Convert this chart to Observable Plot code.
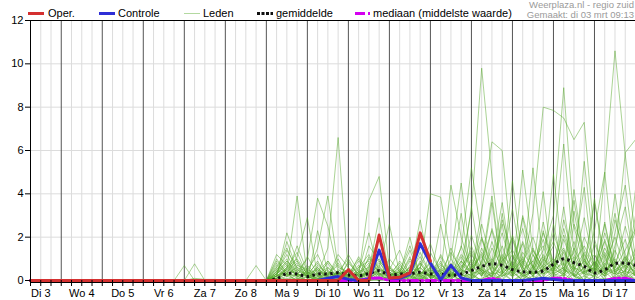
<!DOCTYPE html>
<html><head><meta charset="utf-8">
<script src="https://cdn.jsdelivr.net/npm/d3@7"></script>
<script src="https://cdn.jsdelivr.net/npm/@observablehq/plot@0.6"></script>
<style>
body{margin:0;background:#fff;font-family:"Liberation Sans",Arial,sans-serif;}
#wrap{position:relative;width:635px;height:300px;overflow:hidden;}
.lg{position:absolute;font-size:11px;line-height:14px;top:6px;color:#000;white-space:nowrap;}
.sw{position:absolute;}
.rt{position:absolute;right:1px;font-size:9.5px;line-height:10px;color:#9a9a9a;white-space:nowrap;}
</style></head>
<body>
<div id="wrap">
  <div class="sw" style="left:28px;top:12px;width:16px;height:3px;background:#d43030"></div>
  <div class="lg" style="left:48px">Oper.</div>
  <div class="sw" style="left:99px;top:12px;width:16px;height:3px;background:#2e2ed6"></div>
  <div class="lg" style="left:118px">Controle</div>
  <div class="sw" style="left:184px;top:13px;width:16px;height:1px;background:#b3d9a0"></div>
  <div class="lg" style="left:203px">Leden</div>
  <svg class="sw" style="left:257px;top:11px" width="16" height="5"><line x1="0" y1="2.5" x2="16" y2="2.5" stroke="#111" stroke-width="3" stroke-dasharray="3,1.5"/></svg>
  <div class="lg" style="left:276px">gemiddelde</div>
  <svg class="sw" style="left:355px;top:11px" width="16" height="5"><line x1="0" y1="2.5" x2="16" y2="2.5" stroke="#d400f0" stroke-width="3" stroke-dasharray="10,3,2,3"/></svg>
  <div class="lg" style="left:373px">mediaan (middelste waarde)</div>
  <div class="rt" style="top:0px">Weerplaza.nl - regio zuid</div>
  <div class="rt" style="top:10px">Gemaakt: di 03 mrt 09:13</div>
  <div id="chart" style="position:absolute;left:0;top:0"></div>
</div>
<script>
// Time index i: 6-hour steps starting Di 3 06:00 (i = 0) up to Wo 18 00:00 (i = 59)
const dagLabels = ["Di 3","Wo 4","Do 5","Vr 6","Za 7","Zo 8","Ma 9","Di 10","Wo 11","Do 12","Vr 13","Za 14","Zo 15","Ma 16","Di 17"];
const middagIndex = [1,5,9,13,17,21,25,29,33,37,41,45,49,53,57];
const middernachtIndex = [3,7,11,15,19,23,27,31,35,39,43,47,51,55];
const yTicks = [0,2,4,6,8,10,12];

// Oper. (i = 0..39)
const operWaarden = [0,0,0,0,0,0,0,0,0,0, 0,0,0,0,0,0,0,0,0,0, 0,0,0,0,0,0,0,0,0,0, 0,0.5,0,0,2.1,0.12,0.15,0.35,2.2,0.9];
// Controle (i = 0..59)
const controleWaarden = [0,0,0,0,0,0,0,0,0,0, 0,0,0,0,0,0,0,0,0,0, 0,0,0,0,0,0,0,0,0,0.1,
  0.18,0.05,0,0.05,1.4,0.12,0.1,0.3,1.7,0.8, 0.03,0.7,0.12,0,0,0,0,0,0,0.05, 0.1,0.05,0,0,0,0,0,0,0,0];
// gemiddelde (i = 0..59)
const gemiddeldeWaarden = [0,0,0,0,0,0,0,0,0,0, 0,0,0,0,0,0,0,0,0,0, 0,0,0,0,0.08,0.32,0.3,0.18,0.3,0.3,
  0.36,0.25,0.22,0.32,0.45,0.25,0.3,0.3,0.38,0.3, 0.3,0.24,0.3,0.46,0.65,0.77,0.7,0.5,0.4,0.38, 0.45,0.75,1.0,0.82,0.65,0.35,0.5,0.78,0.8,0.7];
// mediaan (i = 0..59)
const mediaanWaarden = [0,0,0,0,0,0,0,0,0,0, 0,0,0,0,0,0,0,0,0,0, 0,0,0,0,0,0,0,0,0,0,
  0,0,0,0.1,0.12,0,0,0,0,0, 0,0,0,0,0,0.1,0,0,0,0, 0,0.1,0.1,0,0,0,0,0.1,0.1,0];

// Leden (ensemble members), values for i = 12..59
const ledenStartIndex = 12;
const lid01 = [0,0,0, 0,0,0,0, 0,0,0,0, 0,0.4,1.2,0.3, 0.2,0,0.6,0.1, 0,0.3,0.8,0, 0.2,0,0.4,1.1, 0.3,0,0.2,0.5, 1.2,0.4,0,0.3, 2.1,0.6,0,0.4, 0.9,1.5,0.2,0, 0.6,1.8,0.3,0.1, 0.4];
const lid02 = [0,0,0, 0,0,0,0, 0,0,0,0, 0,0.2,0.5,0.9, 0.3,0.1,0,0.4, 1.0,0.2,0,0.6, 0.1,0.3,1.4,0.2, 0,0.5,0.2,1.1, 0.3,0,0.8,2.2, 0.4,0,1.2,0.3, 0.6,2.4,0.5,1.3, 0.2,4.9,10.6,5.8, 2.0];
const lid03 = [0,0,0, 0,0.77,0,0, 0,0,0,0, 0,1.0,0.3,0, 0.5,1.2,0.2,0, 0.4,0,1.6,0.9, 0,0.2,0.6,0, 1.3,0.4,0,0.8, 3.2,9.8,4.8,1.0, 0.3,1.8,0.6,0, 2.6,0.4,1.1,0.2, 0.9,0,1.6,3.4, 0.5];
const lid04 = [0,0,0, 0,0,0,0, 0,0,0,0.69, 0,0.3,0.8,0.2, 0,0.4,0.9,0.3, 0.2,1.1,0.3,0.7, 0,0.5,0,0.3, 0.6,0,1.5,0.4, 0.1,1.9,0.6,2.8, 1.2,0,0.5,1.4, 3.0,8.9,2.5,0.6, 0.3,1.2,0,0.9, 2.3];
const lid05 = [0,0,0, 0,0,0,0, 0,0,0,0, 0,0.6,1.5,0.4, 0.3,0,0.2,1.0, 0,0.4,0.2,0, 0.7,0.1,0.9,0.3, 0,1.2,0.3,0, 0.6,2.0,0.3,0.9, 1.4,0.6,3.1,8.0, 7.85,7.5,6.5,7.3, 1.9,0.4,1.0,0.2, 0.6];
const lid06 = [0,0,0, 0,0,0,0, 0,0,0,0, 0,0.2,2.2,0.9, 0.1,0.6,0,0.3, 0.5,0,0.4,1.3, 0.2,0,0.3,0.6, 0.2,0.9,0,1.6, 0.4,3.2,6.4,6.0, 1.1,0.3,0,2.3, 0.5,1.3,0.2,0, 1.7,0.6,0.3,1.1, 0.2];
const lid07 = [0,0,0, 0,0,0,0, 0,0,0,0, 0,0.8,0.3,1.6, 0.4,0,0.9,0.2, 0,0.6,1.2,0.3, 0.4,0,0.2,0.8, 0.1,0.3,0.5,1.5, 5.2,2.0,0.7,0, 0.9,2.4,0.5,1.1, 0.3,0,2.6,1.4, 0.6,2.2,0.8,0, 1.3];
const lid08 = [0,0,0, 0,0,0,0, 0,0,0,0, 0,0.3,0.7,0.2, 1.1,0.3,0,0.5, 0.2,0,0.6,2.1, 0.3,0.8,0,0.4, 0.2,0,1.0,4.5, 0.8,0.2,1.8,0.4, 0,3.0,1.2,0.3, 0.8,0.2,1.5,0.4, 3.6,1.0,0.2,0.7, 0.4];
const lid09 = [0,0,0, 0,0,0,0, 0,0,0,0, 0,0.5,1.0,0.1, 0,0.7,0.3,0, 0.9,0.2,0.4,0, 0.6,0.2,1.1,0, 0.4,0.3,4.4,2.0, 0.5,1.2,0,0.8, 2.0,0.4,0.9,1.6, 0.3,2.1,0.6,0, 0.9,0.3,2.8,1.2, 0.5];
const lid10 = [0,0,0, 0,0,0,0, 0,0,0,0, 0,0.2,0.6,1.3, 0.2,0.3,0.8,0, 0.3,1.0,0,0.5, 0.2,0.6,0.1,0.5, 4.0,3.85,1.0,0.3, 0,0.9,2.3,0.4, 0.6,1.7,0.3,0.9, 1.8,0.5,0.2,1.2, 0.4,1.5,0.6,2.5, 0.8];
const lid11 = [0,0,0, 0,0,0,0, 0,0,0,0, 0,0.4,0.2,0.7, 0.5,0.3,1.5,6.6, 0.3,0,0.7,0.2, 1.0,0.4,0,0.3, 0.8,0.2,0,0.6, 1.4,0.5,0.3,1.6, 0.2,0.8,2.0,0.6, 1.0,0.3,0.7,2.9, 0.6,0.2,1.4,0.4, 3.0];
const lid12 = [0,0,0, 0,0,0,0, 0,0,0,0, 0,0.1,0.5,3.9, 0.2,0.6,0.1,0.4, 0,0.3,1.0,0.6, 0.1,0.9,0.3,0, 0.5,0.2,0.8,0.3, 2.1,0.6,1.0,0.3, 4.6,0.8,0.2,1.0, 0.4,2.8,0.9,0.3, 0.2,0.7,2.0,0.5, 1.1];
const lid13 = [0,0,0, 0,0,0,0, 0,0,0,0, 0,0.3,0.9,0.4, 1.0,3.8,2.5,0.4, 0.1,0.5,0.3,0.9, 0.4,0,0.7,0.2, 0.3,1.1,0.2,0.9, 0.4,1.3,0.5,2.6, 0.3,5.1,1.4,0.5, 0.8,0.3,3.2,0.7, 0.5,2.6,0.3,1.0, 0.6];
const lid14 = [0,0,0, 0,0,0,0, 0,0,0,0, 0,0.6,0.2,0.5, 0.3,1.5,3.9,0.6, 0.4,0.1,0.5,1.0, 0.2,0.4,1.6,0.3, 0,0.6,0.3,1.2, 0.7,0.2,1.5,0.6, 1.9,0.4,5.2,0.8, 0.3,1.0,0.5,5.5, 1.2,0.4,0.8,1.9, 0.3];
const lid15 = [0,0,0, 0,0,0,0, 0,0,0,0, 0,0.2,0.4,0.8, 0.1,0.5,0.2,1.2, 0.6,0.2,3.7,4.8, 0.5,0.3,0,0.9, 0.2,0.7,0.4,0.1, 1.0,0.4,2.4,0.8, 0.2,1.3,0.6,2.2, 0.9,0.5,1.8,0.3, 2.3,5.0,0.6,0.4, 1.5];
const lid16 = [0,0,0, 0,0,0,0, 0,0,0,0, 0,1.2,0.7,0.2, 0.4,0.1,0.3,0.8, 0.2,0.9,0.4,1.4, 0.3,0.1,0.5,0.2, 0.9,0.3,1.3,0.5, 0.2,1.5,0.4,0.9, 3.3,0.6,0.2,1.2, 0.4,1.9,0.6,0.3, 0.8,0.2,1.1,5.9, 6.5];
const lid17 = [0,0,0, 0,0,0,0, 0,0,0,0, 0,0.3,1.4,0.6, 0.2,0,0.4,0.1, 0.8,0.3,0.1,0.4, 0.6,0.2,1.0,0.4, 0.2,0.8,0.1,0.6, 1.3,0.2,0.9,3.6, 0.5,1.0,0.3,0.7, 1.6,6.3,1.2,0.5, 0.3,0.9,3.1,0.6, 0.2];
const lid18 = [0,0,0, 0,0,0,0, 0,0,0,0, 0,0.5,0.2,0.3, 0.7,0.2,0.5,0, 0.3,0.6,0.9,0.2, 0.1,0.7,0.2,1.3, 0.3,0,0.6,0.2, 0.9,0.4,0.2,1.2, 0.6,0.3,1.5,0.4, 2.2,0.7,3.7,0.9, 0.4,1.3,0.5,0.8, 0.4];
const lid19 = [0,0,0, 0,0,0,0, 0,0,0,0, 0,0.1,0.6,1.0, 0.3,0.8,0.2,0.3, 0.5,0.1,0.4,0.6, 2.6,0.3,0.5,0.1, 0.6,0.4,0.2,0.9, 0.3,2.6,0.8,0.2, 0.7,0.2,0.6,1.9, 0.5,0.3,0.9,1.6, 0.7,0.2,4.0,0.9, 0.3];
const lid20 = [0,0,0, 0,0,0,0, 0,0,0,0, 0,0.4,0.9,0.3, 0.1,0.3,0.6,0.2, 0.3,0.7,0.2,0.3, 0.5,0.2,0.3,2.8, 0.4,0.2,0.5,0.3, 0.1,0.6,0.3,0.4, 1.2,0.5,0.9,0.2, 0.6,1.4,0.4,2.0, 0.9,0.3,0.6,1.4, 2.4];
const lid21 = [0,0,0, 0,0,0,0, 0,0,0,0, 0,0.2,0.3,0.6, 0.4,0.2,0.3,0.7, 0.2,0.4,0.6,0.3, 0.2,0.4,0.3,0.6, 0.1,0.5,0.3,0.4, 0.6,1.1,0.4,0.2, 0.5,0.3,1.4,0.6, 0.2,0.5,0.3,0.9, 0.3,0.6,0.4,0.7, 0.2];
const lid22 = [0,0,0, 0,0,0,0, 0,0,0,0, 0,0.7,0.3,0.2, 0.3,0.5,0.1,0.2, 0.4,0.2,0.3,0.8, 0.3,0.2,0.6,0.4, 0.2,0.3,0.1,0.7, 0.4,0.3,0.6,0.3, 0.9,0.2,0.4,0.3, 0.5,0.8,0.2,0.4, 0.6,0.2,0.5,0.3, 0.7];
const lid23 = [0,0,0, 0,0,0,0, 0,0,0,0, 0,0.2,0.5,0.3, 0.2,0.1,0.4,0.3, 0.1,0.3,0.2,0.5, 0.4,0.1,0.2,0.3, 0.5,0.2,0.4,0.2, 0.3,0.5,0.2,0.6, 0.2,0.4,0.3,0.5, 0.3,0.2,0.6,0.4, 0.2,0.5,0.3,0.4, 0.3];
const lid24 = [0,0,0, 0.69,0,0,0, 0,0,0,0, 0,0,0.2,0, 0,0.1,0,0, 0.2,0,0,0.1, 0,0,0.3,0, 0,0.1,0,0, 0.2,0,0.4,0, 0,0.3,0,0.1, 0,0,0.5,0, 0.2,0,0.1,0.3, 0];
const lid25 = [0,0,0, 0,0.1,0.05,0.05, 0,0,0,0, 0,0.1,0,0.3, 0,0,0.2,0, 0,0.1,0,0, 0.3,0,0,0.2, 0,0,0.3,0, 0,0.5,0,0.2, 0.4,0,0.1,0, 0.3,0.6,0,0.2, 0,0.4,0,0.2, 0.1];
const lid26 = [0,0,0, 0,0,0,0, 0,0,0,0, 0,0,0.1,0, 0.2,0,0,0.1, 0,0,0.2,0, 0,0.1,0,0, 0.2,0,0,0.1, 0.3,0,0.2,0, 0,0.2,0,0.6, 0.1,0,0.3,0, 0,0.8,0,0, 0.3];
const lid27 = [0,0,0, 0,0,0,0, 0,0,0,0, 0,0.3,0,0.1, 0,0.2,0,0, 0.1,0,0,0.3, 0,0.2,0,0.1, 0,0,0.2,0, 0.1,0.4,0,0.3, 0,0,0.7,0, 0.2,0,0,0.4, 0.6,0,0.2,0, 0];
const lid28 = [0,0,0, 0,0,0,0, 0,0,0,0, 0,0.1,0.3,0, 0,0,0.1,0.2, 0,0.2,0,0.1, 0.1,0,0.2,0, 0,0.2,0,0.1, 0,0.1,0.3,0, 0.5,0,0.2,0, 0,0.3,0,1.0, 0,0.1,0,0.5, 0];
const lid29 = [0,0,0, 0,0,0,0, 0,0,0,0, 0,0.9,0.4,0.1, 0.6,0,0.3,0.2, 1.2,0.4,0,0.2, 0.5,1.4,0.2,0, 0.3,0.1,0.7,0.2, 1.6,0.3,0,3.1, 0.4,0.9,0.2,2.7, 0.6,0.2,4.2,1.0, 0.3,1.9,0.4,0.2, 0.9];
const lid30 = [0,0,0, 0,0,0,0, 0,0,0,0, 0,0.2,1.8,0.5, 0.2,0.9,0.1,0.3, 0.4,0,1.1,0.3, 0.2,0.5,0.1,0.6, 1.7,0.3,0.2,0.5, 0.2,0.8,3.9,0.4, 0.2,1.1,0.3,0.5, 4.9,0.7,0.2,0.6, 1.2,0.3,2.2,4.4, 1.0];
const lid31 = [0,0,0, 0,0,0,0, 0,0,0,0, 0,0,0.6,0.2, 0,2.3,0.4,0.1, 0.3,0,0.5,2.9, 0.2,0.4,0,0.8, 0.1,2.6,0.3,0.2, 3.4,0.5,0.2,1.1, 0.3,2.9,0.6,0.1, 0.4,3.4,0.2,0.6, 3.8,0.5,0.9,0.3, 4.2];
const lid32 = [0,0,0, 0,0,0,0, 0,0,0,0, 0,0.1,0.3,1.1, 2.9,0.2,0,0.4, 0.1,0.4,2.2,0.3, 0,0.3,2.0,0.1, 0.3,0,0.4,3.1, 0.2,0.6,3.6,0.3, 0.8,0.2,0.4,4.1, 0.3,0.6,1.3,4.3, 0.2,2.7,0.4,1.1, 0.2];

const leden = [lid01,lid02,lid03,lid04,lid05,lid06,lid07,lid08,lid09,lid10,lid11,lid12,lid13,lid14,lid15,lid16,
               lid17,lid18,lid19,lid20,lid21,lid22,lid23,lid24,lid25,lid26,lid27,lid28,lid29,lid30,lid31,lid32];

const ledenTabel = leden.flatMap((reeks, k) => reeks.map((v, j) => ({lid: k, i: ledenStartIndex + j, v})));
const operTabel = operWaarden.map((v, i) => ({i, v}));
const controleTabel = controleWaarden.map((v, i) => ({i, v}));
const gemiddeldeTabel = gemiddeldeWaarden.map((v, i) => ({i, v})).filter(d => d.i >= 23);
const mediaanTabel = mediaanWaarden.map((v, i) => ({i, v}));
const alleIndex = d3.range(0, 60);
const zesUur = d3.range(1, 59).filter(i => !middernachtIndex.includes(i));

const chart = Plot.plot({
  width: 635, height: 300,
  marginTop: 20, marginRight: 0, marginBottom: 20, marginLeft: 30,
  style: {fontFamily: "'Liberation Sans', Arial, sans-serif", fontSize: "11px", color: "#000", background: "transparent", overflow: "visible"},
  x: {domain: [0, 59], axis: null},
  y: {domain: [0, 12], axis: null},
  marks: [
    Plot.ruleX(zesUur, {stroke: "#dcdcdc"}),
    Plot.ruleY([2, 4, 6, 8, 10], {stroke: "#dcdcdc"}),
    Plot.ruleX(middernachtIndex, {stroke: "#555"}),
    Plot.line(ledenTabel, {x: "i", y: "v", z: "lid", stroke: "#55a82a", strokeOpacity: 0.5, strokeWidth: 1}),
    Plot.line(mediaanTabel, {x: "i", y: "v", stroke: "#d400f0", strokeWidth: 3, strokeDasharray: "10,3,2,3"}),
    Plot.line(gemiddeldeTabel, {x: "i", y: "v", stroke: "#111", strokeWidth: 3, strokeDasharray: "2.5,3.5", strokeLinecap: "butt", curve: "catmull-rom"}),
    Plot.line(controleTabel, {x: "i", y: "v", stroke: "#2e2ed6", strokeWidth: 3}),
    Plot.line(operTabel, {x: "i", y: "v", stroke: "#d43030", strokeWidth: 3}),
    Plot.ruleY([12], {stroke: "#000"}),
    Plot.ruleY([0], {stroke: "#000", dy: 2}),
    Plot.ruleX([0], {stroke: "#000", insetBottom: -2}),
    Plot.axisX({ticks: alleIndex, tickSize: 6, tickFormat: () => "", label: null, stroke: "#000"}),
    Plot.axisX({ticks: middagIndex, tickSize: 0, tickPadding: 9, label: null, tickFormat: d => dagLabels[middagIndex.indexOf(d)], fontSize: 11}),
    Plot.axisY({ticks: yTicks, tickSize: 5, tickPadding: 2, label: null, fontSize: 11})
  ]
});
document.getElementById("chart").appendChild(chart);
</script>
</body></html>
